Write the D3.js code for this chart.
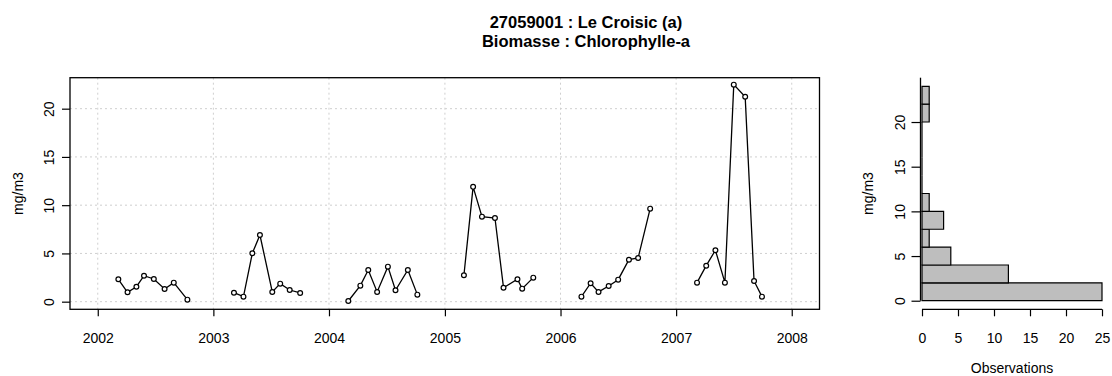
<!DOCTYPE html>
<html>
<head>
<meta charset="utf-8">
<script src="https://cdn.jsdelivr.net/npm/d3@7/dist/d3.min.js"></script>
<style>
  html, body { margin: 0; padding: 0; background: #fff; }
  svg text { font-family: "Liberation Sans", Arial, Helvetica, sans-serif; fill: #000; }
</style>
</head>
<body>
<svg id="chart" width="1112" height="376"></svg>
<script>
// Sampling dates (one series per year, lines broken between years)
const dates2002 = ["2002-03-07", "2002-04-05", "2002-05-03", "2002-05-27", "2002-06-27", "2002-07-31", "2002-08-29", "2002-10-11"];
const values2002 = [2.32, 0.97, 1.55, 2.69, 2.35, 1.32, 1.97, 0.21];

const dates2003 = ["2003-03-07", "2003-04-06", "2003-05-04", "2003-05-28", "2003-07-06", "2003-07-31", "2003-08-30", "2003-10-02"];
const values2003 = [0.93, 0.52, 5.02, 6.91, 1.01, 1.87, 1.21, 0.90];

const dates2004 = ["2004-03-02", "2004-04-09", "2004-05-04", "2004-06-01", "2004-07-05", "2004-07-29", "2004-09-06", "2004-10-06"];
const values2004 = [0.07, 1.66, 3.28, 1.01, 3.63, 1.18, 3.28, 0.73];

const dates2005 = ["2005-03-02", "2005-03-31", "2005-04-28", "2005-06-08", "2005-07-05", "2005-08-18", "2005-09-02", "2005-10-07"];
const values2005 = [2.74, 11.9, 8.81, 8.67, 1.45, 2.32, 1.35, 2.49];

const dates2006 = ["2006-03-08", "2006-04-06", "2006-05-01", "2006-06-02", "2006-07-02", "2006-08-05", "2006-09-03", "2006-10-11"];
const values2006 = [0.52, 1.91, 1.01, 1.63, 2.28, 4.35, 4.53, 9.64];

const dates2007 = ["2007-03-08", "2007-04-06", "2007-05-05", "2007-06-04", "2007-07-02", "2007-08-07", "2007-09-04", "2007-09-29"];
const values2007 = [1.97, 3.73, 5.33, 1.97, 22.49, 21.24, 2.15, 0.52];

const yearTicks = ["2002", "2003", "2004", "2005", "2006", "2007", "2008"];
const valueTicks = [0, 5, 10, 15, 20];
const countTicks = [0, 5, 10, 15, 20, 25];
const binEdges = [0, 2, 4, 6, 8, 10, 12, 14, 16, 18, 20, 22, 24];

const titleLines = ["27059001 : Le Croisic (a)", "Biomasse : Chlorophylle-a"];
const unitLabel = "mg/m3";
const countLabel = "Observations";

const parse = d3.timeParse("%Y-%m-%d");
const series = [
  [dates2002, values2002], [dates2003, values2003], [dates2004, values2004],
  [dates2005, values2005], [dates2006, values2006], [dates2007, values2007]
].map(([ds, vs]) => ds.map((d, i) => ({ date: parse(d), value: vs[i] })));
const allValues = series.flat().map(d => d.value);

const svg = d3.select("#chart");
const FONT = 14;

// ---------- Time series panel ----------
const ts = { left: 70, right: 819.5, top: 77.7, bottom: 309.3 };
const t0 = new Date(2002, 0, 1), t1 = new Date(2008, 0, 1);
const pad = (t1 - t0) * 0.04;
const x = d3.scaleTime()
  .domain([new Date(+t0 - pad), new Date(+t1 + pad)])
  .range([ts.left, ts.right]);
const y = d3.scaleLinear().domain([-0.79, 23.21]).range([ts.bottom, ts.top]);
const yearDates = yearTicks.map(s => new Date(+s, 0, 1));

// grid
const grid = svg.append("g").attr("stroke", "#cfcfcf").attr("stroke-width", 1)
  .attr("stroke-dasharray", "2,3").attr("fill", "none");
grid.selectAll("line.v").data(yearDates).join("line")
  .attr("x1", d => x(d)).attr("x2", d => x(d))
  .attr("y1", ts.top).attr("y2", ts.bottom);
grid.selectAll("line.h").data(valueTicks).join("line")
  .attr("x1", ts.left).attr("x2", ts.right)
  .attr("y1", d => y(d)).attr("y2", d => y(d));

// axes
const xAxis = d3.axisBottom(x).tickValues(yearDates)
  .tickFormat(d3.timeFormat("%Y")).tickSize(7).tickSizeOuter(0).tickPadding(17);
const gx = svg.append("g").attr("transform", `translate(0,${ts.bottom})`).call(xAxis);
gx.select(".domain").remove();

const yAxis = d3.axisLeft(y).tickValues(valueTicks).tickSize(8).tickSizeOuter(0);
const gy = svg.append("g").attr("transform", `translate(${ts.left},0)`).call(yAxis);
gy.select(".domain").remove();
gy.selectAll(".tick text")
  .attr("transform", "rotate(-90)")
  .attr("x", 0).attr("y", -21).attr("dy", "0.35em")
  .attr("text-anchor", "middle");

[gx, gy].forEach(g => {
  g.selectAll(".tick line").attr("stroke", "#000").attr("stroke-width", 1.2);
  g.selectAll(".tick text").attr("font-size", FONT).attr("fill", "#000")
    .style("font-family", '"Liberation Sans", Arial, sans-serif');
});

// frame
svg.append("rect")
  .attr("x", ts.left).attr("y", ts.top)
  .attr("width", ts.right - ts.left).attr("height", ts.bottom - ts.top)
  .attr("fill", "none").attr("stroke", "#000").attr("stroke-width", 1.3);

// series lines and points
const line = d3.line().x(d => x(d.date)).y(d => y(d.value));
const gs = svg.append("g");
gs.selectAll("path.series").data(series).join("path")
  .attr("d", line).attr("fill", "none").attr("stroke", "#000").attr("stroke-width", 1.3);
gs.selectAll("circle").data(series.flat()).join("circle")
  .attr("cx", d => x(d.date)).attr("cy", d => y(d.value)).attr("r", 2.4)
  .attr("fill", "#fff").attr("stroke", "#000").attr("stroke-width", 1.2);

svg.append("text")
  .attr("transform", `translate(18.5,${(ts.top + ts.bottom) / 2}) rotate(-90)`)
  .attr("text-anchor", "middle").attr("dy", "0.35em")
  .attr("font-size", FONT).text(unitLabel);

// ---------- Histogram panel ----------
const hs = { left: 922, right: 1102, top: 77.7, bottom: 309.3 };
const hx = d3.scaleLinear().domain([0, 25]).range([hs.left, hs.right]);
const hy = d3.scaleLinear().domain([-0.96, 24.96]).range([hs.bottom, hs.top]);

// right-closed bins (a, b], lowest bin includes its lower edge
const bins = d3.pairs(binEdges).map(([a, b], i) => ({
  lo: a, hi: b,
  count: allValues.filter(v => (i === 0 ? v >= a : v > a) && v <= b).length
}));

svg.append("line")
  .attr("x1", hs.left - 1.5).attr("x2", hs.left - 1.5)
  .attr("y1", hy(0)).attr("y2", hs.top)
  .attr("stroke", "#000").attr("stroke-width", 1.3);

svg.append("g").selectAll("path").data(bins).join("path")
  .attr("d", d => {
    const p = d3.path();
    p.moveTo(hx(0), hy(d.lo));
    p.lineTo(hx(d.count), hy(d.lo));
    p.lineTo(hx(d.count), hy(d.hi));
    p.lineTo(hx(0), hy(d.hi));
    p.closePath();
    return p.toString();
  })
  .attr("fill", "#bebebe").attr("stroke", "#000").attr("stroke-width", 1.2);

const hxAxis = d3.axisBottom(hx).tickValues(countTicks).tickSize(7).tickSizeOuter(0).tickPadding(17);
const ghx = svg.append("g").attr("transform", `translate(0,${hs.bottom})`).call(hxAxis);
ghx.select(".domain").attr("stroke", "#000").attr("stroke-width", 1.2)
  .attr("d", `M${hx(0)},0H${hx(25)}`);

const hyAxis = d3.axisLeft(hy).tickValues(valueTicks).tickSize(9).tickSizeOuter(0);
const ghy = svg.append("g").attr("transform", `translate(${hs.left - 1.5},0)`).call(hyAxis);
ghy.select(".domain").remove();
ghy.selectAll(".tick text")
  .attr("transform", "rotate(-90)")
  .attr("x", 0).attr("y", -20).attr("dy", "0.35em")
  .attr("text-anchor", "middle");

[ghx, ghy].forEach(g => {
  g.selectAll(".tick line").attr("stroke", "#000").attr("stroke-width", 1.2);
  g.selectAll(".tick text").attr("font-size", FONT).attr("fill", "#000")
    .style("font-family", '"Liberation Sans", Arial, sans-serif');
});

svg.append("text")
  .attr("transform", `translate(868.5,${(hs.top + hs.bottom) / 2}) rotate(-90)`)
  .attr("text-anchor", "middle").attr("dy", "0.35em")
  .attr("font-size", FONT).text(unitLabel);

svg.append("text")
  .attr("x", (hs.left + hs.right) / 2).attr("y", 368).attr("dy", "0.35em")
  .attr("text-anchor", "middle").attr("font-size", FONT).text(countLabel);

// ---------- Title ----------
svg.append("g").selectAll("text").data(titleLines).join("text")
  .attr("x", 586).attr("y", (d, i) => 22 + i * 19).attr("dy", "0.35em")
  .attr("text-anchor", "middle").attr("font-size", 16.5).attr("font-weight", "bold")
  .text(d => d);
</script>
</body>
</html>
